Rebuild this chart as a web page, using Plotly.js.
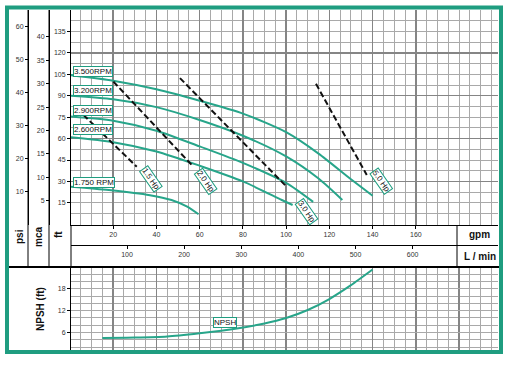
<!DOCTYPE html>
<html><head><meta charset="utf-8">
<script src="https://cdn.plot.ly/plotly-3.0.1.min.js"></script>
<style>html,body{margin:0;padding:0;background:#fff}#chart{width:512px;height:367px}</style>
</head><body><div id="chart"></div>
<script>
// ---- data ----
const rpmLabels = ['3.500RPM','3.200RPM','2.900RPM','2.600RPM','1.750 RPM'];
const rpmLabelY = [106.6, 93.5, 79.7, 66.0, 29.3];

const rpm3500Gpm = [0, 20, 40, 60, 80, 100, 115, 130, 140];
const rpm3500Ft  = [104.5, 100.5, 94.5, 86.5, 77.5, 64.5, 49.5, 31.5, 20];
const rpm3200Gpm = [0, 20, 40, 60, 80, 100, 115, 126];
const rpm3200Ft  = [90, 87.5, 82, 73, 62, 47.5, 32, 17];
const rpm2900Gpm = [0, 20, 40, 60, 80, 100, 112.5];
const rpm2900Ft  = [75.5, 72.5, 65.5, 54.5, 43, 29, 15.7];
const rpm2600Gpm = [0, 20, 40, 60, 80, 98, 103];
const rpm2600Ft  = [61, 57.5, 51, 41, 30, 17, 13.5];
const rpm1750Gpm = [0, 18, 37, 47, 54, 59.5];
const rpm1750Ft  = [26.4, 24, 20.4, 17, 12.5, 7];

const hpLabels = ['1.5 Hp','2.0 Hp','3.0 Hp','5.0 Hp'];
const hp15Gpm = [6.2, 30.9];   const hp15Ft = [76.6, 40.3];
const hp20Gpm = [20.1, 57.1];  const hp20Ft = [99.9, 40.3];
const hp30Gpm = [50.9, 100.3]; const hp30Ft = [102.3, 26.2];
const hp50Gpm = [113.8, 137.3];const hp50Ft = [98.3, 34.5];
const hpLabelGpm = [37.3, 62.9, 109.5, 144.1];
const hpLabelFt  = [32.0, 30.2, 9.2, 29.9];

const npshGpm = [15, 30, 45, 60, 75, 90, 100, 110, 120, 130, 140];
const npshFt  = [4.5, 4.6, 4.9, 5.8, 6.9, 8.5, 10.0, 12.2, 15.2, 19.0, 23.3];

const gpmTicks  = [20, 40, 60, 80, 100, 120, 140, 160];
const lminTicks = [100, 200, 300, 400, 500, 600];
const ftTicks   = [15, 30, 45, 60, 75, 90, 105, 120, 135];
const psiTicks  = [10, 20, 30, 40, 50, 60];
const mcaTicks  = [5, 10, 15, 20, 25, 30, 35, 40];
const npshTicks = [6, 12, 18];

// ---- unit factors / styling ----
const FT_PER_PSI = 2.307, FT_PER_MCA = 3.281, LMIN_PER_GPM = 3.785;
const FT_RANGE = [-0.5, 150], GPM_RANGE = [0.5, 198];
const TEAL = '#1f9d80', CURVE = '#27a58a';
const MAJ = '#858585', MIN = '#a9a9a9';
const FONT = 'Arial, "Liberation Sans", sans-serif';
const W = 512, H = 367;
const px = v => v / W, py = v => 1 - v / H;

const curve = (x, y) => ({x, y, xaxis:'x', yaxis:'y', mode:'lines', hoverinfo:'skip',
  line:{color:CURVE, width:2, shape:'spline', smoothing:0.7}});
const dashed = (x, y) => ({x, y, xaxis:'x', yaxis:'y', mode:'lines', hoverinfo:'skip',
  line:{color:'#111', width:2, dash:'6px,3px'}});
const empty = (xa, ya) => ({x:[], y:[], xaxis:xa, yaxis:ya, mode:'lines', hoverinfo:'skip'});

const data = [
  empty('x','y5'), empty('x','y2'), empty('x','y3'), empty('x2','y'),
  curve(rpm3500Gpm, rpm3500Ft), curve(rpm3200Gpm, rpm3200Ft), curve(rpm2900Gpm, rpm2900Ft),
  curve(rpm2600Gpm, rpm2600Ft), curve(rpm1750Gpm, rpm1750Ft),
  dashed(hp15Gpm, hp15Ft), dashed(hp20Gpm, hp20Ft), dashed(hp30Gpm, hp30Ft), dashed(hp50Gpm, hp50Ft),
  {x:npshGpm, y:npshFt, xaxis:'x3', yaxis:'y4', mode:'lines', hoverinfo:'skip',
   line:{color:CURVE, width:2, shape:'spline', smoothing:0.7}}
];

const tickFont = {family:FONT, size:7, color:'#333'};
const baseY = {ticks:'outside', ticklen:3, tickcolor:'#000', showline:true, linecolor:'#000', linewidth:1,
  showgrid:false, zeroline:false, tickfont:tickFont, fixedrange:true};

const layout = {
  width:W, height:H, margin:{l:0, r:0, t:0, b:0}, paper_bgcolor:'#fff', plot_bgcolor:'#fff',
  showlegend:false, font:{family:FONT, size:7, color:'#222'},
  xaxis:{domain:[px(71), px(498)], range:GPM_RANGE, anchor:'y', tickmode:'array', tickvals:gpmTicks,
    ticks:'outside', ticklen:3, tickcolor:'#000', showline:true, linecolor:'#000', linewidth:1,
    showgrid:true, gridcolor:MAJ, gridwidth:1.5, zeroline:false, tickfont:tickFont, fixedrange:true,
    minor:{tickmode:'linear', dtick:5, tick0:0, showgrid:true, gridcolor:MIN, gridwidth:1}},
  xaxis2:{overlaying:'x', anchor:'free', position:py(245), side:'bottom',
    range:[GPM_RANGE[0]*LMIN_PER_GPM, GPM_RANGE[1]*LMIN_PER_GPM], tickmode:'array', tickvals:lminTicks,
    ticks:'outside', ticklen:3, tickcolor:'#000', showline:true, linecolor:'#000', linewidth:1,
    showgrid:false, zeroline:false, tickfont:tickFont, fixedrange:true},
  xaxis3:{domain:[px(71), px(498)], range:GPM_RANGE, anchor:'y4', showticklabels:false, ticks:'',
    tickmode:'linear', dtick:20, tick0:0, showgrid:true, gridcolor:MAJ, gridwidth:1.5, showline:false,
    zeroline:false, fixedrange:true,
    minor:{tickmode:'linear', dtick:5, tick0:0, showgrid:true, gridcolor:MIN, gridwidth:1}},
  yaxis:Object.assign({}, baseY, {domain:[py(225), py(10)], range:FT_RANGE, anchor:'x',
    tickmode:'array', tickvals:ftTicks}),
  yaxis2:Object.assign({}, baseY, {overlaying:'y', anchor:'free', position:px(28), side:'left',
    range:[FT_RANGE[0]/FT_PER_PSI, FT_RANGE[1]/FT_PER_PSI], tickmode:'array', tickvals:psiTicks}),
  yaxis3:Object.assign({}, baseY, {overlaying:'y', anchor:'free', position:px(49), side:'left',
    range:[FT_RANGE[0]/FT_PER_MCA, FT_RANGE[1]/FT_PER_MCA], tickmode:'array', tickvals:mcaTicks}),
  yaxis4:Object.assign({}, baseY, {domain:[py(350), py(267)], range:[1.2, 24], anchor:'x3',
    tickmode:'array', tickvals:npshTicks, showgrid:true, gridcolor:MIN, gridwidth:1,
    minor:{tickmode:'linear', dtick:2, tick0:0, showgrid:true, gridcolor:MIN, gridwidth:1}}),
  yaxis5:{overlaying:'y', anchor:'x', range:FT_RANGE, tickmode:'linear', dtick:30, tick0:0,
    showticklabels:false, ticks:'', showline:false, zeroline:false, showgrid:true, gridcolor:MAJ,
    gridwidth:1.5, fixedrange:true,
    minor:{tickmode:'linear', dtick:7.5, tick0:0, showgrid:true, gridcolor:MIN, gridwidth:1}},
  shapes:[
    {type:'line', xref:'paper', yref:'paper', x0:px(28), x1:px(28), y0:py(10), y1:py(267), line:{color:'#000', width:1}},
    {type:'line', xref:'paper', yref:'paper', x0:px(49), x1:px(49), y0:py(10), y1:py(267), line:{color:'#000', width:1}},
    {type:'line', xref:'paper', yref:'paper', x0:px(71), x1:px(71), y0:py(225), y1:py(267), line:{color:'#000', width:1}},
    {type:'line', xref:'paper', yref:'paper', x0:px(457), x1:px(457), y0:py(225), y1:py(267), line:{color:'#000', width:1}},
    {type:'line', xref:'paper', yref:'paper', x0:px(7), x1:px(500), y0:py(267), y1:py(267), line:{color:'#000', width:2}},
    {type:'rect', xref:'paper', yref:'paper', x0:px(7), x1:px(501), y0:py(352), y1:py(7.5),
      line:{color:TEAL, width:4}, fillcolor:'rgba(0,0,0,0)'}
  ],
  annotations:[]
};

const boldFont = {family:FONT, size:10, color:'#111', weight:'bold'};
const paperText = (text, x, y, angle) => ({xref:'paper', yref:'paper', x:px(x), y:py(y), text,
  showarrow:false, textangle:angle || 0, font:boldFont, xanchor:'center', yanchor:'middle'});
layout.annotations.push(paperText('psi', 19, 237, -90), paperText('mca', 38, 237, -90),
  paperText('ft', 58, 235, -90), paperText('gpm', 479, 234), paperText('L / min', 479.5, 256),
  paperText('NPSH (ft)', 40, 309, -90));

const boxFont = {family:FONT, size:8, color:'#111'};
rpmLabels.forEach((t, i) => layout.annotations.push({xref:'x', yref:'y', x:1.2, y:rpmLabelY[i], text:t,
  xanchor:'left', yanchor:'middle', showarrow:false, font:boxFont, bgcolor:'#fff',
  bordercolor:TEAL, borderwidth:1, borderpad:0}));
hpLabels.forEach((t, i) => layout.annotations.push({xref:'x', yref:'y', x:hpLabelGpm[i], y:hpLabelFt[i],
  text:t, textangle:55, showarrow:false, font:boxFont, bgcolor:'#fff', bordercolor:TEAL,
  borderwidth:1, borderpad:0}));
layout.annotations.push({xref:'x3', yref:'y4', x:71.7, y:8.8, text:'NPSH', showarrow:false,
  font:boxFont, bgcolor:'#fff', bordercolor:TEAL, borderwidth:1, borderpad:0});

Plotly.newPlot('chart', data, layout, {staticPlot:true, displayModeBar:false});
</script>
</body></html>
